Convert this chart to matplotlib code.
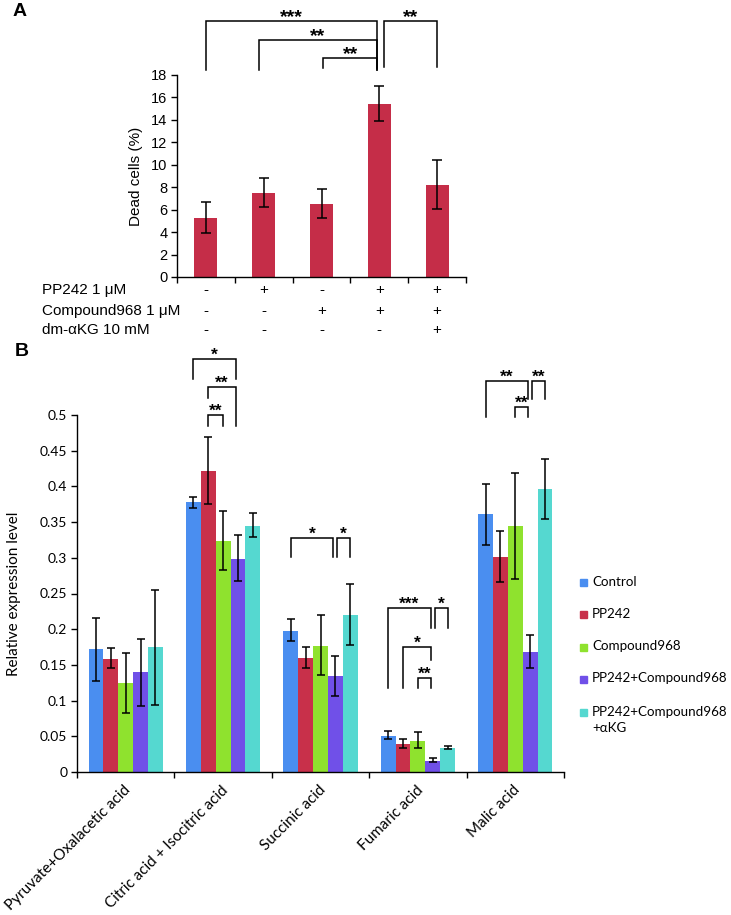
import matplotlib
matplotlib.use("Agg")
import matplotlib.pyplot as plt
from matplotlib.patches import Rectangle
import numpy as np

# ---------------- Panel A data ----------------
a_values = [5.3, 7.5, 6.5, 15.4, 8.2]
a_err_low = [3.9, 6.2, 5.3, 13.9, 6.1]
a_err_high = [6.7, 8.8, 7.8, 17.0, 10.4]
a_row_labels = ["PP242 1 \u03bcM", "Compound968 1 \u03bcM", "dm-\u03b1KG 10 mM"]
a_rows = [["-", "+", "-", "+", "+"],
          ["-", "-", "+", "+", "+"],
          ["-", "-", "-", "-", "+"]]
a_yticks = [0, 2, 4, 6, 8, 10, 12, 14, 16, 18]
# brackets: (bar i, bar j, top, left-leg bottom, right-leg bottom, label)
a_brackets = [(0, 3, 22.8, 18.45, 18.45, "***"),
              (1, 3, 21.1, 18.45, 18.45, "**"),
              (2, 3, 19.5, 18.6, 18.6, "**"),
              (3, 4, 22.8, 18.7, 18.7, "**")]

# ---------------- Panel B data ----------------
b_categories = ["Pyruvate+Oxalacetic acid", "Citric acid + Isocitric acid",
                "Succinic acid", "Fumaric acid", "Malic acid"]
b_series = ["Control", "PP242", "Compound968", "PP242+Compound968",
            "PP242+Compound968\n+\u03b1KG"]
b_control = [0.172, 0.378, 0.198, 0.051, 0.361]
b_pp242 = [0.158, 0.421, 0.160, 0.039, 0.301]
b_c968 = [0.124, 0.323, 0.177, 0.044, 0.344]
b_combo = [0.140, 0.299, 0.134, 0.016, 0.168]
b_akg = [0.175, 0.345, 0.220, 0.034, 0.396]
b_control_lo = [0.128, 0.370, 0.183, 0.046, 0.318]
b_control_hi = [0.216, 0.385, 0.214, 0.057, 0.404]
b_pp242_lo = [0.145, 0.375, 0.145, 0.033, 0.266]
b_pp242_hi = [0.173, 0.469, 0.175, 0.046, 0.338]
b_c968_lo = [0.083, 0.283, 0.136, 0.034, 0.270]
b_c968_hi = [0.167, 0.365, 0.220, 0.056, 0.419]
b_combo_lo = [0.093, 0.267, 0.106, 0.0135, 0.145]
b_combo_hi = [0.186, 0.332, 0.162, 0.0196, 0.192]
b_akg_lo = [0.094, 0.3285, 0.178, 0.032, 0.354]
b_akg_hi = [0.255, 0.363, 0.264, 0.037, 0.439]
b_yticks = [0, 0.05, 0.1, 0.15, 0.2, 0.25, 0.3, 0.35, 0.4, 0.45, 0.5]
b_ytick_labels = ["0", "0.05", "0.1", "0.15", "0.2", "0.25", "0.3", "0.35",
                  "0.4", "0.45", "0.5"]
# brackets: (group, bar i, bar j, top, left-leg bottom, right-leg bottom, label)
b_brackets = [(1, 0, 3, 0.578, 0.550, 0.550, "*"),
              (1, 1, 3, 0.539, 0.524, 0.485, "**"),
              (1, 1, 2, 0.500, 0.485, 0.485, "**"),
              (2, 0, 3, 0.328, 0.301, 0.301, "*"),
              (2, 3, 4, 0.328, 0.301, 0.301, "*"),
              (3, 0, 3, 0.230, 0.1176, 0.2017, "***"),
              (3, 3, 4, 0.230, 0.2017, 0.2017, "*"),
              (3, 1, 3, 0.175, 0.1176, 0.157, "*"),
              (3, 2, 3, 0.1317, 0.1176, 0.1176, "**"),
              (4, 0, 3, 0.5476, 0.497, 0.5224, "**"),
              (4, 3, 4, 0.5476, 0.5224, 0.5224, "**"),
              (4, 2, 3, 0.511, 0.497, 0.497, "**")]

a_color = "#c52d48"
b_colors = ["#4a8ef0", "#c8304a", "#8fe22e", "#7050e8", "#55d8d0"]

FA = "Liberation Sans"
FB = "Lato"

fig = plt.figure(figsize=(7.31, 9.15), dpi=100)
W, H = 731, 915

def fx(px):
    return px / W

def fy(py):
    return 1 - py / H

# ================= Panel A =================
axA = fig.add_axes([fx(177), fy(277), fx(466) - fx(177), fy(75) - fy(277)])
xa = np.arange(len(a_values))
a_yerr = [np.array(a_values) - np.array(a_err_low),
          np.array(a_err_high) - np.array(a_values)]
axA.bar(xa, a_values, width=0.4, color=a_color, zorder=2)
axA.errorbar(xa, a_values, yerr=a_yerr, fmt="none", ecolor="black",
             elinewidth=1.1, capsize=3.3, capthick=1.1, zorder=3)
axA.set_xlim(-0.5, len(a_values) - 0.5)
axA.set_ylim(0, 18)
axA.set_yticks(a_yticks)
axA.set_xticks(np.arange(-0.5, len(a_values), 1.0))
axA.set_xticklabels([])
for s in ["top", "right"]:
    axA.spines[s].set_visible(False)
for s in ["left", "bottom"]:
    axA.spines[s].set_linewidth(1.0)
axA.tick_params(axis="both", direction="out", length=4, width=1.0)
axA.tick_params(axis="y", labelsize=10.5, pad=3)
for lab in axA.get_yticklabels():
    lab.set_fontfamily(FA)
axA.set_ylabel("Dead cells (%)", fontsize=11, family=FA, labelpad=6)

row_y = [290, 311, 330]
for r, (lab, row) in enumerate(zip(a_row_labels, a_rows)):
    fig.text(fx(42), fy(row_y[r]), lab, fontsize=11, family=FA,
             ha="left", va="center")
    yy = axA.transAxes.inverted().transform(fig.transFigure.transform((0, fy(row_y[r]))))[1]
    for i, s in enumerate(row):
        axA.text(i, yy, s, transform=axA.get_xaxis_transform(), fontsize=11,
                 family=FA, ha="center", va="center", clip_on=False)

def bracket(ax, x1, x2, top, lb, rb, label, dstar, fs):
    ax.plot([x1, x1, x2, x2], [lb, top, top, rb], color="black", lw=1.1,
            clip_on=False, solid_joinstyle="miter", zorder=4)
    ax.text((x1 + x2) / 2, top + dstar, label, ha="center", va="center",
            fontsize=fs, family="Liberation Sans", fontweight="bold",
            clip_on=False)

for i, j, top, lb, rb, lab in a_brackets:
    x1 = xa[i] + (0.08 if i == 3 else 0.0)
    x2 = xa[j] - (0.04 if j == 3 else 0.0)
    x1 = x1 + (-0.08 if i == 1 else 0.0) + (0.03 if i == 2 else 0.0)
    bracket(axA, x1, x2, top, lb, rb, lab, 0.35, 14)

fig.text(fx(13), fy(12), "A", fontsize=14, fontweight="bold", family=FA,
         ha="left", va="center")

# ================= Panel B =================
axB = fig.add_axes([fx(77), fy(772), fx(564) - fx(77), fy(415) - fy(772)])
xb = np.arange(len(b_categories))
w = 0.152
vals = [b_control, b_pp242, b_c968, b_combo, b_akg]
los = [b_control_lo, b_pp242_lo, b_c968_lo, b_combo_lo, b_akg_lo]
his = [b_control_hi, b_pp242_hi, b_c968_hi, b_combo_hi, b_akg_hi]
for k in range(5):
    pos = xb + (k - 2) * w
    v = np.array(vals[k])
    axB.bar(pos, v, width=w, color=b_colors[k], zorder=2)
    axB.errorbar(pos, v, yerr=[v - np.array(los[k]), np.array(his[k]) - v],
                 fmt="none", ecolor="black", elinewidth=1.1, capsize=3,
                 capthick=1.1, zorder=3)
axB.set_xlim(-0.5, len(b_categories) - 0.5)
axB.set_ylim(0, 0.5)
axB.set_yticks(b_yticks)
axB.set_yticklabels(b_ytick_labels)
axB.set_xticks(np.arange(-0.5, len(b_categories), 1.0))
axB.set_xticklabels([])
for s in ["top", "right"]:
    axB.spines[s].set_visible(False)
for s in ["left", "bottom"]:
    axB.spines[s].set_linewidth(1.0)
axB.tick_params(axis="both", direction="out", length=4, width=1.0)
axB.tick_params(axis="y", labelsize=10, pad=3)
for lab in axB.get_yticklabels():
    lab.set_fontfamily(FB)
axB.set_ylabel("Relative expression level", fontsize=11, family=FB)
axB.yaxis.set_label_coords(-0.115, 0.5)

for i, c in enumerate(b_categories):
    axB.text(i + 0.03, -0.045, c, transform=axB.get_xaxis_transform(),
             rotation=45, rotation_mode="anchor", ha="right", va="center",
             fontsize=11, family=FB)

for g, i, j, top, lb, rb, lab in b_brackets:
    x1 = g + (i - 2) * w
    x2 = g + (j - 2) * w
    if j == 3:
        x2 -= 0.02
    if i == 3:
        x1 += 0.02
    bracket(axB, x1, x2, top, lb, rb, lab, 0.005, 12.5)

fig.text(fx(15), fy(352), "B", fontsize=14, fontweight="bold", family=FA,
         ha="left", va="center")

# legend (manual)
leg_y = [582, 614, 647, 679, 712]
for k, name in enumerate(b_series):
    fig.patches.append(Rectangle((fx(580), fy(leg_y[k]) - 3.5 / H), 7 / W, 7 / H,
                                 transform=fig.transFigure, color=b_colors[k]))
    fig.text(fx(592), fy(leg_y[k]) + 6.5 / H, name, fontsize=9.6, family=FB,
             ha="left", va="top", linespacing=1.45)

fig.savefig("out.png", dpi=100)
